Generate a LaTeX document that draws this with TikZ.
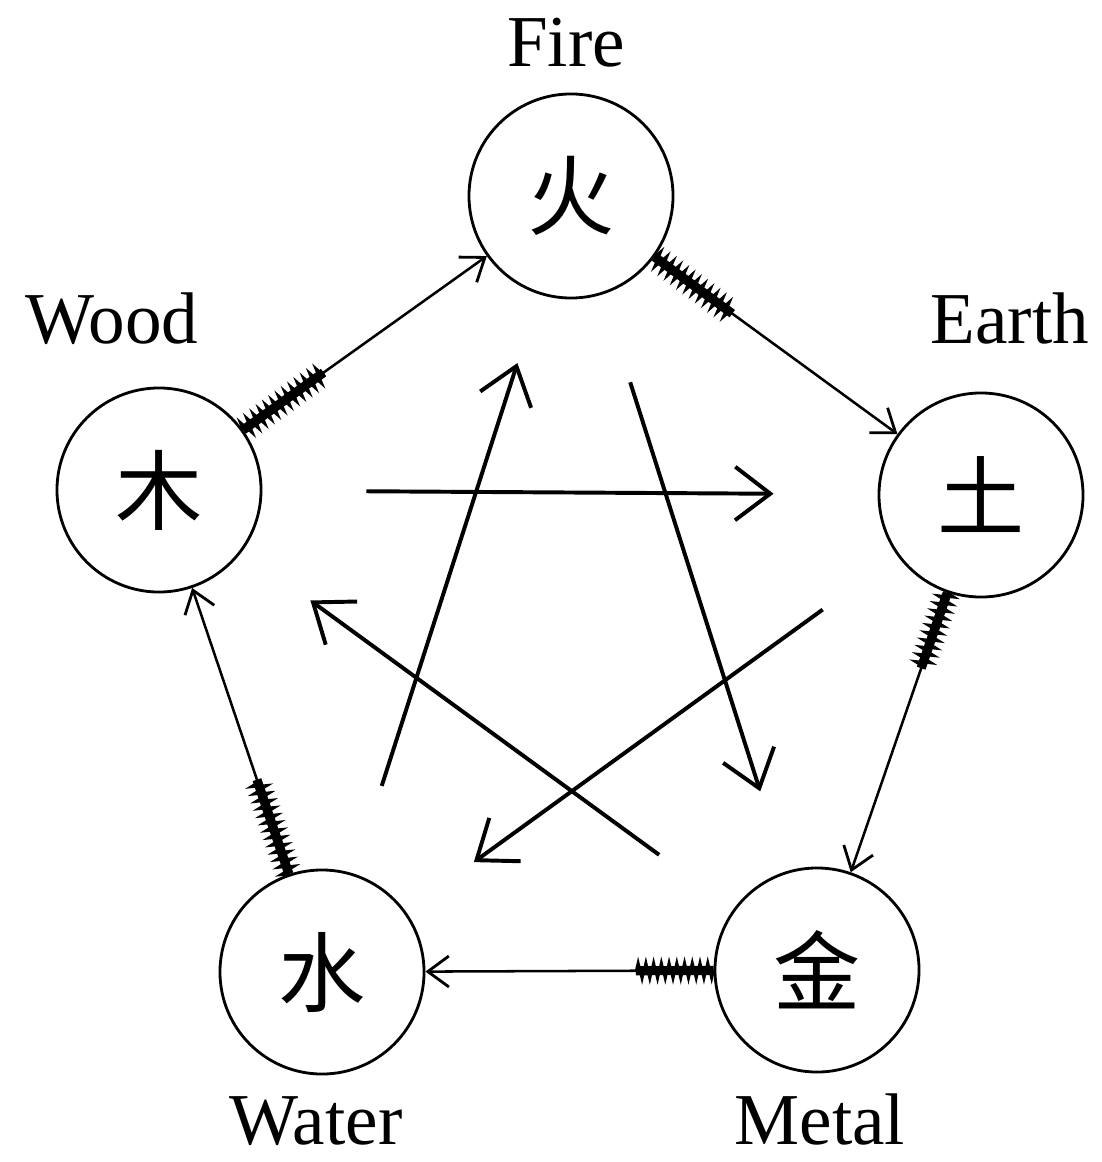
\documentclass[tikz,border=0pt]{standalone}
\usepackage{fontspec}
\setmainfont{Liberation Serif}
\newfontfamily\cjk{Noto Sans CJK SC}
\usetikzlibrary{arrows.meta, decorations.pathmorphing}

\begin{document}
\begin{tikzpicture}[
        x=0.025cm, y=-0.025cm,
        element/.style={
            circle, draw, line width=2pt,
            minimum size=5.1cm, inner sep=0pt,
            font=\cjk\fontsize{62}{62}\selectfont
        },
        elname/.style={
            anchor=base, inner sep=0pt,
            font=\fontsize{52}{56}\selectfont
        },
        feed/.style={
            line width=1.8pt,
            -{Straight Barb[length=15pt, width=22pt, line width=2pt]}
        },
        wind/.style={
            line width=6.5pt,
            postaction={draw, decorate, line width=1.8pt,
                decoration={zigzag, segment length=5.5pt, amplitude=6pt}}
        },
        check/.style={
            line width=2.8pt,
            -{Straight Barb[length=25pt, width=38pt, line width=2.8pt]},
            shorten <=2.3cm, shorten >=2.1cm
        }
    ]

    \useasboundingbox (0,0) rectangle (1102,1162);

    % --- Elemente ---
    \node[element] (fire)  at (571,196) {火};
    \node[element] (earth) at (981,495) {土};
    \node[element] (metal) at (817,970) {金};
    \node[element] (water) at (322,972) {水};
    \node[element] (wood)  at (159,490) {木};

    % --- Namen ---
    \node[elname] (firename)  at (566,67)   {Fire};
    \node[elname] (earthname) at (1010,343) {Earth};
    \node[elname] (woodname)  at (112,343)  {Wood};
    \node[elname] (watername) at (316,1144) {Water};
    \node[elname] (metalname) at (820,1144) {Metal};

    % --- aeusserer Kreis ---
    \draw[feed] (wood)  -- coordinate[pos=0.33] (woodw)  (fire);
    \draw[feed] (fire)  -- coordinate[pos=0.32] (firew)  (earth);
    \draw[feed] (earth) -- coordinate[pos=0.27] (earthw) (metal);
    \draw[feed] (metal) -- coordinate[pos=0.27] (metalw) (water);
    \draw[feed] (water) -- coordinate[pos=0.33] (waterw) (wood);

    \draw[wind] (wood)  -- (woodw);
    \draw[wind] (fire)  -- (firew);
    \draw[wind] (earth) -- (earthw);
    \draw[wind] (metal) -- (metalw);
    \draw[wind] (water) -- (waterw);

    % --- innerer Stern ---
    \draw[check, shorten <=2.6cm, shorten >=2.6cm] (wood) -- (earth);
    \draw[check] (earth) -- (water);
    \draw[check, shorten >=1.8cm] (water) -- (fire);
    \draw[check] (fire)  -- (metal);
    \draw[check] (metal) -- (wood);

\end{tikzpicture}
\end{document}
